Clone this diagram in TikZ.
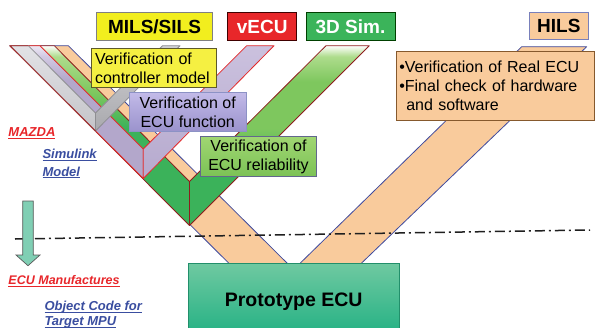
\documentclass[tikz,border=0pt]{standalone}
\usepackage{fontspec}
\setmainfont{Liberation Sans}

% palette
\definecolor{peach}{HTML}{F9CB9C}
\definecolor{vblue}{HTML}{3F4A9E}
\definecolor{grnDark}{HTML}{3BB25A}
\definecolor{grnMid}{HTML}{7EC75E}
\definecolor{grnLight}{HTML}{AEDC8C}
\definecolor{grnEdge}{HTML}{8E1D1D}
\definecolor{lavDark}{HTML}{B3A7CB}
\definecolor{lavLight}{HTML}{D2C9E3}
\definecolor{lavTop}{HTML}{CBC1DE}
\definecolor{lavBot}{HTML}{B6AACE}
\definecolor{lavEdge}{HTML}{E42A2A}
\definecolor{gryLTop}{HTML}{E2E2E6}
\definecolor{gryLBot}{HTML}{C4C4C8}
\definecolor{gryRTop}{HTML}{D0D0D4}
\definecolor{gryRBot}{HTML}{A9A9AD}
\definecolor{gryEdge}{HTML}{8E8E92}
\definecolor{edgeRed}{HTML}{A52424}
\definecolor{milsYellow}{HTML}{F2EE1E}
\definecolor{noteYellow}{HTML}{F5F042}
\definecolor{vecuRed}{HTML}{E8272A}
\definecolor{simGreen}{HTML}{3BB45A}
\definecolor{funcTop}{HTML}{C2BAE8}
\definecolor{funcBot}{HTML}{9A92CC}
\definecolor{relTop}{HTML}{A0D672}
\definecolor{relBot}{HTML}{7CC256}
\definecolor{protoTop}{HTML}{6FC9A1}
\definecolor{protoBot}{HTML}{2AB386}
\definecolor{arrowFill}{HTML}{80CFB4}
\definecolor{tagRed}{HTML}{E8262A}
\definecolor{tagBlue}{HTML}{3A4EA0}

% arm shadings (the 25bp..75bp band spans the arm from bottom to top)
\pgfdeclareverticalshading{grnleftarm}{100bp}{color(0bp)=(grnDark); color(52bp)=(grnDark); color(62bp)=(grnMid); color(72bp)=(grnLight); color(75bp)=(white); color(100bp)=(white)}
\pgfdeclareverticalshading{grnrightarm}{100bp}{color(0bp)=(grnDark); color(40bp)=(grnDark); color(52bp)=(grnMid); color(65bp)=(grnMid); color(72bp)=(grnLight); color(75bp)=(white); color(100bp)=(white)}
\pgfdeclareverticalshading{lavleftarm}{100bp}{color(0bp)=(lavDark); color(62bp)=(lavDark); color(71bp)=(lavLight); color(75bp)=(lavLight!40!white); color(100bp)=(white)}

% underlined label text
\newcommand\ulabel[1]{\setbox0\hbox{#1}\rlap{\rule[-2pt]{\wd0}{0.9pt}}\box0}

\begin{document}
\begin{tikzpicture}[x=1pt,y=-1pt,
  hdr/.style={rectangle, inner sep=0pt, line width=0.9pt,
    font=\fontsize{19}{22}\selectfont\bfseries, text height=13.6pt, text depth=0pt},
  note/.style={rectangle, inner sep=0pt, line width=0.7pt,
    font=\fontsize{16}{19}\selectfont, align=center},
  tag/.style={inner sep=0pt, font=\fontsize{13}{17.5}\selectfont\bfseries\itshape, align=left},
  armline/.style={line width=0.8pt, line join=round},
  cutline/.style={line width=1.5pt, color=black!88, dash pattern=on 10pt off 4pt on 2pt off 4pt}
]
\useasboundingbox (0,0) rectangle (595,327);
\clip (0,0) rectangle (595,327);
\fill[white] (0,0) rectangle (595,327);

% HILS: large peach V
\path[armline, draw=vblue, fill=peach]
  (10,45.7) -- (294,328) -- (586.7,46.7) -- (521.7,46.7) -- (293.6,269.6) -- (68.3,45.7) -- cycle;

% 3D Sim.: green V
\path[armline, draw=grnEdge, shade, shading=grnleftarm]
  (10,45.7) -- (189.5,225.5) -- (189.5,181.5) -- (54.3,45.7) -- cycle;
\path[armline, draw=grnEdge, shade, shading=grnrightarm]
  (189.5,225.5) -- (369.3,45.7) -- (326,45.7) -- (189.5,181.5) -- cycle;

% vECU: lavender V
\path[armline, draw=lavEdge, shade, shading=lavleftarm]
  (10,45.7) -- (143.3,178.5) -- (143.3,149) -- (40,45.7) -- cycle;
\path[armline, draw=lavEdge, top color=lavTop, bottom color=lavBot]
  (143.3,178.5) -- (274,45.7) -- (246.7,45.7) -- (143.3,149) -- cycle;

% MILS/SILS: gray V
\path[armline, draw=gryEdge, top color=gryLTop, bottom color=gryLBot]
  (10,45.7) -- (95.5,131) -- (95.5,113) -- (28.3,45.7) -- cycle;
\path[armline, draw=gryEdge, top color=gryRTop, bottom color=gryRBot]
  (95.5,131) -- (180,45.7) -- (162.5,45.7) -- (95.5,113) -- cycle;
\draw[armline, edgeRed] (28.3,45.7) -- (10,45.7) -- (95.5,131);

% boundary between model side and ECU side
\coordinate (cutL) at (15,239);
\coordinate (cutR) at (590,230);
\draw[cutline] (cutL) -- (cutR);

% hand-over arrow
\path[draw=black!65, fill=arrowFill, line width=0.7pt, line join=miter]
  (22.7,201) -- (33.3,201) -- (33.3,255) -- (40,255) -- (28,265.7) -- (16,255) -- (22.7,255) -- cycle;

% stage headers
\node[hdr, fill=milsYellow, draw=black!50, minimum width=115.6pt, minimum height=28pt] (mils) at (154.5,26.7) {MILS/SILS};
\node[hdr, fill=vecuRed, draw=black!75!red, text=white, minimum width=69pt, minimum height=28pt] (vecu) at (262.2,26.7) {vECU};
\node[hdr, fill=simGreen, draw=black!75!green, text=white, minimum width=89pt, minimum height=27.3pt] (sim) at (350.5,26.4) {3D Sim.};
\node[hdr, fill=peach, draw=vblue!70, minimum width=59pt, minimum height=26.7pt] (hils) at (558.8,26) {HILS};

% verification notes
\node[note, fill=noteYellow, draw=black!45!olive, minimum width=125pt, minimum height=39.2pt,
  text width=118.4pt, align=left] (ctrl) at (154.2,67.9) {Verification of\\controller model};
\node[note, top color=funcTop, bottom color=funcBot, draw=vblue!60, minimum width=116.7pt, minimum height=39pt]
  (func) at (187.7,112.2) {Verification of\\ECU function};
\node[note, top color=relTop, bottom color=relBot, draw=vblue!45!gray, minimum width=116.4pt, minimum height=39.3pt]
  (rel) at (258.5,156.4) {Verification of\\ECU reliability};
\node[note, fill=peach, draw=brown!70!black, minimum width=197.3pt, minimum height=68.3pt,
  text width=192pt, align=left] (real) at (495.3,85.8)
  {\textbullet Verification of Real ECU\\\textbullet Final check of hardware\\\hspace*{7pt}and software};

% target hardware
\node[rectangle, top color=protoTop, bottom color=protoBot, draw=protoBot!80!black, line width=0.7pt,
  minimum width=210.7pt, minimum height=66pt, inner sep=0pt,
  font=\fontsize{19.5}{22}\selectfont\bfseries, text height=21pt, text depth=0pt]
  (proto) at (293.7,296.3) {Prototype ECU};

% side labels
\node[tag, text=tagRed, anchor=base west] (mazda) at (8.3,136.5) {\ulabel{MAZDA}};
\node[tag, text=tagBlue, anchor=north west] (simmodel) at (42.3,149) {\ulabel{Simulink}\\\ulabel{Model}};
\node[tag, text=tagRed, anchor=base west, font=\fontsize{12.5}{16}\selectfont\bfseries\itshape] (ecuman) at (8.3,284.7) {\ulabel{ECU Manufactures}};
\node[tag, text=tagBlue, anchor=north west, font=\fontsize{13}{15}\selectfont\bfseries\itshape] (objcode) at (44.3,300.8) {\ulabel{Object Code for}\\\ulabel{Target MPU}};
\end{tikzpicture}
\end{document}
